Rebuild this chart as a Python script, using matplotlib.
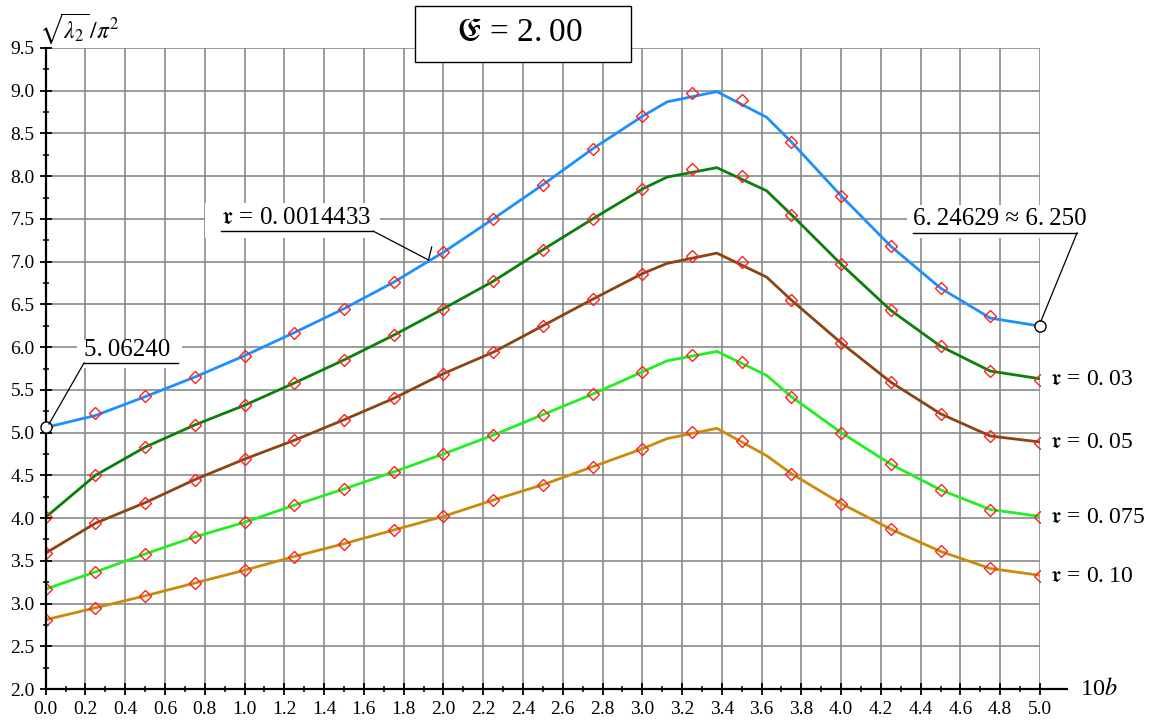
import matplotlib
matplotlib.use('Agg')
import matplotlib.pyplot as plt
import matplotlib.transforms as mtransforms
from matplotlib.lines import Line2D
from matplotlib.patches import Rectangle

plt.rcParams['font.family'] = ['Liberation Serif', 'DejaVu Serif']
plt.rcParams['mathtext.fontset'] = 'stix'

# ---------------- data ----------------
marker_x = [0.0, 0.25, 0.5, 0.75, 1.0, 1.25, 1.5, 1.75, 2.0, 2.25, 2.5,
            2.75, 3.0, 3.25, 3.5, 3.75, 4.0, 4.25, 4.5, 4.75, 5.0]
line_x = [0.0, 0.25, 0.5, 0.75, 1.0, 1.25, 1.5, 1.75, 2.0, 2.25, 2.5,
          2.75, 3.0, 3.125, 3.375, 3.625, 3.75, 4.0, 4.25, 4.5, 4.75, 5.0]

tau_labels = ['0.0014433', '0.03', '0.05', '0.075', '0.10']
colors = ['#1e8fff', '#0b800b', '#8b4513', '#22ee22', '#cc8a0a']

markers_t00014 = [5.06, 5.23, 5.43, 5.65, 5.90, 6.17, 6.45, 6.76, 7.11, 7.50, 7.90,
                  8.32, 8.70, 8.97, 8.89, 8.40, 7.77, 7.18, 6.69, 6.36, 6.246]
markers_t003 = [4.01, 4.50, 4.83, 5.09, 5.32, 5.58, 5.85, 6.14, 6.45, 6.77, 7.14,
                7.50, 7.85, 8.08, 8.00, 7.55, 6.97, 6.43, 6.01, 5.72, 5.62]
markers_t005 = [3.59, 3.94, 4.18, 4.45, 4.69, 4.91, 5.15, 5.40, 5.69, 5.94, 6.25,
                6.56, 6.86, 7.07, 7.00, 6.55, 6.05, 5.59, 5.22, 4.96, 4.88]
markers_t0075 = [3.17, 3.37, 3.58, 3.78, 3.95, 4.15, 4.34, 4.54, 4.75, 4.97, 5.21,
                 5.45, 5.71, 5.91, 5.83, 5.42, 5.00, 4.63, 4.33, 4.10, 4.01]
markers_t010 = [2.81, 2.95, 3.09, 3.24, 3.39, 3.55, 3.70, 3.86, 4.02, 4.21, 4.39,
                4.60, 4.81, 5.01, 4.90, 4.52, 4.17, 3.87, 3.61, 3.41, 3.32]

line_t00014 = [5.06, 5.20, 5.42, 5.65, 5.90, 6.17, 6.45, 6.76, 7.11, 7.50, 7.90,
               8.32, 8.70, 8.87, 8.99, 8.69, 8.40, 7.77, 7.18, 6.69, 6.34, 6.246]
line_t003 = [4.01, 4.50, 4.83, 5.09, 5.32, 5.58, 5.85, 6.14, 6.45, 6.77, 7.14,
             7.50, 7.85, 7.99, 8.10, 7.83, 7.55, 6.97, 6.43, 6.01, 5.72, 5.63]
line_t005 = [3.59, 3.94, 4.18, 4.45, 4.69, 4.91, 5.15, 5.40, 5.69, 5.94, 6.25,
             6.56, 6.86, 6.98, 7.10, 6.82, 6.55, 6.05, 5.59, 5.22, 4.96, 4.89]
line_t0075 = [3.17, 3.37, 3.58, 3.78, 3.95, 4.15, 4.34, 4.54, 4.75, 4.97, 5.21,
              5.45, 5.71, 5.84, 5.95, 5.67, 5.42, 5.00, 4.63, 4.33, 4.10, 4.02]
line_t010 = [2.81, 2.95, 3.09, 3.24, 3.39, 3.55, 3.70, 3.86, 4.02, 4.21, 4.39,
             4.60, 4.81, 4.93, 5.05, 4.73, 4.52, 4.17, 3.87, 3.61, 3.41, 3.33]

all_markers = [markers_t00014, markers_t003, markers_t005, markers_t0075, markers_t010]
all_lines = [line_t00014, line_t003, line_t005, line_t0075, line_t010]

x_ticks = [i * 0.2 for i in range(26)]
x_ticklabels = ['%.1f' % v for v in x_ticks]
y_ticks = [2.0 + i * 0.5 for i in range(16)]
y_ticklabels = ['%.1f' % v for v in y_ticks]

start_label = '5.06240'
end_label = '6.24629 \u2248 6.250'
title_value = '2.00'
start_value = 5.06240
end_value = 6.24629

TS = '\u2009'  # thin gap after the decimal point, as in the original typesetting


def gap(s):
    return s.replace('.', '.' + TS)


# ---------------- figure ----------------
W, H = 1153, 724
fig = plt.figure(figsize=(W / 100, H / 100), dpi=100)
L, R, T, B = 45.7, 1040, 48, 689
ax = fig.add_axes([L / W, 1 - B / H, (R - L) / W, (B - T) / H])
ax.set_xlim(0, 5.0)
ax.set_ylim(2.0, 9.5)

# pixel (top-left origin) transform
px = mtransforms.Affine2D().scale(1 / W, -1 / H).translate(0, 1) + fig.transFigure

# grid
for xv in x_ticks[1:]:
    ax.axvline(xv, color='#8a8a8a', lw=1.2, zorder=0)
for yv in y_ticks[1:]:
    ax.axhline(yv, color='#8a8a8a', lw=1.2, zorder=0)

for sp in ['top', 'right']:
    ax.spines[sp].set_visible(False)
for sp in ['left', 'bottom']:
    ax.spines[sp].set_linewidth(1.6)
ax.spines['left'].set_zorder(5)

# extend x axis line past 5.0
fig.add_artist(Line2D([R, 1067], [B, B], transform=px, color='black', lw=1.6))

ax.set_xticks(x_ticks)
ax.set_xticklabels(x_ticklabels)
ax.set_yticks(y_ticks)
ax.set_yticklabels(y_ticklabels)
ax.set_xticks([0.1 + 0.2 * i for i in range(25)], minor=True)
ax.set_yticks([2.25 + 0.5 * i for i in range(15)], minor=True)
ax.tick_params(which='major', direction='inout', length=9, width=1.3,
               labelsize=14, color='black')
ax.tick_params(which='minor', direction='inout', length=4.5, width=1.1, color='black')
ax.tick_params(axis='x', which='major', pad=4)
ax.tick_params(axis='y', which='major', pad=3.5)

# curves
for ys_line, ys_mark, c in zip(all_lines, all_markers, colors):
    ax.plot(line_x, ys_line, color=c, lw=2.0, zorder=3)
    ax.plot(marker_x, ys_mark, linestyle='none', marker='D', markersize=6.5,
            markerfacecolor='none', markeredgecolor='#ff2020', markeredgewidth=1.0,
            zorder=4)

# end-point circles
ax.plot([marker_x[0]], [start_value], marker='o', markersize=8, markerfacecolor='white',
        markeredgecolor='black', markeredgewidth=1.0, zorder=6, clip_on=False)
ax.plot([marker_x[-1]], [end_value], marker='o', markersize=8, markerfacecolor='white',
        markeredgecolor='black', markeredgewidth=1.0, zorder=6, clip_on=False)


def leader(xs, ys, lw=1.0):
    fig.add_artist(Line2D(xs, ys, transform=px, color='black', lw=lw, zorder=3))


def whitebox(x0, y0, x1, y1):
    fig.add_artist(Rectangle((x0, y0), x1 - x0, y1 - y0, transform=px,
                             facecolor='white', edgecolor='none', zorder=1))


# 5.06240
whitebox(77, 340, 182, 368)
fig.text(84, 350, gap(start_label), transform=px, fontsize=18, ha='left', va='center',
         zorder=4)
leader([84, 178], [363, 363])
leader([84, 49], [363, 424], lw=0.9)

# tau = 0.0014433
whitebox(205, 203, 380, 238)
fig.text(221, 218, r'$\mathfrak{r}$ = ' + gap(tau_labels[0]), transform=px, fontsize=18,
         ha='left', va='center', zorder=4)
leader([221, 373], [231, 231])
leader([373, 428.5], [231, 260], lw=0.9)
leader([431.7, 428.5], [247, 260], lw=0.9)

# 6.24629 ~ 6.250
whitebox(907, 205, 1105, 238)
fig.text(913, 219, gap(end_label), transform=px, fontsize=18,
         ha='left', va='center', zorder=4)
leader([913, 1077], [233, 233])
leader([1077, 1041], [233, 321], lw=0.9)

# right-hand labels
for lab, ys in zip(tau_labels[1:], all_markers[1:]):
    ax.text(5.05, ys[-1], r'$\mathfrak{r}$ = ' + gap(lab), fontsize=17,
            ha='left', va='center', clip_on=False)

# title box
fig.add_artist(Rectangle((415, 6), 216, 56, transform=px, facecolor='white',
                         edgecolor='black', lw=1.0, zorder=2))
fig.text(520, 33, r'$\mathfrak{E}$ = ' + gap(title_value), transform=px, fontsize=24,
         ha='center', va='center', zorder=4)

# axis labels
fig.text(39, 29, r'$\sqrt{\lambda_2}\,/\pi^2$', transform=px, fontsize=17,
         ha='left', va='center')
fig.text(1080, 689, r'10$b$', transform=px, fontsize=17.5, ha='left', va='center')

fig.savefig('out.png', dpi=100)
